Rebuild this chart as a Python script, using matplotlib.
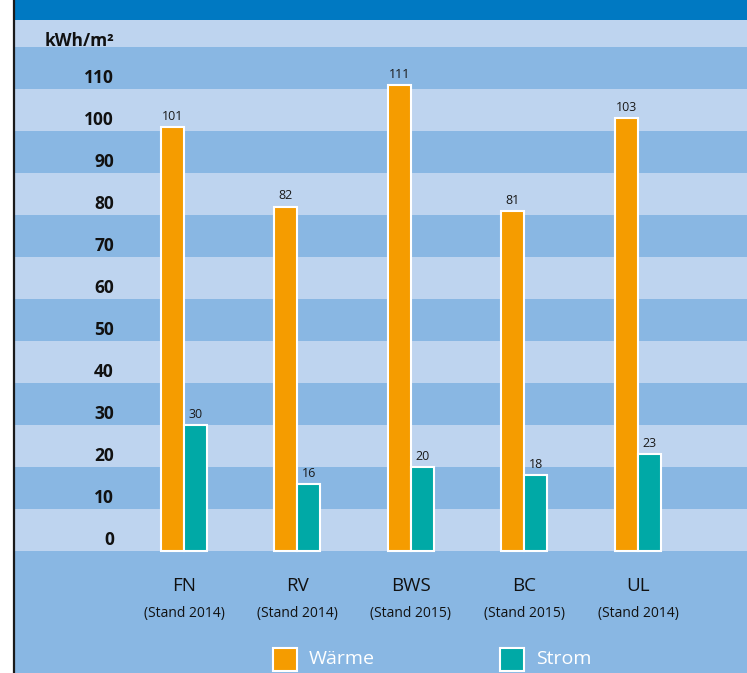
import matplotlib.pyplot as plt
from matplotlib.patches import Rectangle
from matplotlib.lines import Line2D

standorte = ["FN", "RV", "BWS", "BC", "UL"]
stand = ["(Stand 2014)", "(Stand 2014)", "(Stand 2015)", "(Stand 2015)", "(Stand 2014)"]
waerme = [101, 82, 111, 81, 103]
strom = [30, 16, 20, 18, 23]
yticks = [0, 10, 20, 30, 40, 50, 60, 70, 80, 90, 100, 110]

ORANGE = "#f59c00"
TEAL = "#00a9a6"
LIGHT = "#bed4ef"
DARK = "#89b7e3"
TOPBLUE = "#0079c2"

plt.rcParams['font.family'] = ['Open Sans', 'DejaVu Sans']

W, H = 747, 673
fig = plt.figure(figsize=(W / 100, H / 100), dpi=100)
fig.patch.set_facecolor("white")

# axes from x=15px to right edge, y=20px to bottom
ax = fig.add_axes([15 / W, 0, 1 - 15 / W, (H - 20) / H])
ax.set_facecolor(DARK)
ppu = 4.2          # pixels per unit
y0 = 551           # pixel row of value 0
ax.set_ylim(-(H - y0) / ppu, (y0 - 20) / ppu)
step = 113.5       # pixel distance between groups
c0 = 184
ax.set_xlim((15 - c0) / step, (W - c0) / step)
for s in ax.spines.values():
    s.set_visible(False)
ax.set_xticks([])
ax.set_yticks([])

# stripes
top = (y0 - 20) / ppu
for lo in range(0, 130, 20):
    ax.axhspan(lo, min(lo + 10, top), color=LIGHT, lw=0, zorder=0)

# top band
fig.add_artist(Rectangle((15 / W, 1 - 20 / H), 1, 20 / H, transform=fig.transFigure,
                         color=TOPBLUE, lw=0))
# black left line
fig.add_artist(Line2D([14 / W, 14 / W], [0, 1], transform=fig.transFigure,
                      color="#1a1a1a", lw=1.6))

bw = 23 / step
x = list(range(len(standorte)))
b1 = ax.bar([i - bw / 2 for i in x], waerme, bw, color=ORANGE, edgecolor="white",
            linewidth=1.5, zorder=3)
b2 = ax.bar([i + bw / 2 for i in x], strom, bw, color=TEAL, edgecolor="white",
            linewidth=1.5, zorder=3)
for bars, vals in ((b1, waerme), (b2, strom)):
    for r, v in zip(bars, vals):
        ax.annotate(str(v), (r.get_x() + r.get_width() / 2, v), xytext=(0, 3),
                    textcoords="offset points", ha="center", va="bottom",
                    fontsize=9, color="#1a1a1a", zorder=4)

# y labels
xl = (114 - c0) / step
for t in yticks:
    ax.text(xl, t + 2.6, str(t), ha="right", va="center", fontsize=12.5,
            fontweight="bold", color="#111111")
ax.text(xl, (y0 - 41) / ppu, "kWh/m²", ha="right", va="center", fontsize=12.5,
        fontweight="bold", color="#111111")

# category labels
for i, (s, st) in enumerate(zip(standorte, stand)):
    ax.text(i, -(586 - y0) / ppu, s, ha="center", va="center", fontsize=13.5,
            color="#111111")
    ax.text(i, -(614 - y0) / ppu, st, ha="center", va="center", fontsize=10,
            color="#111111")

# legend
for px, col, lab in ((273, ORANGE, "Wärme"), (500, TEAL, "Strom")):
    xs = (px - c0) / step
    ax.add_patch(Rectangle((xs, -(671 - y0) / ppu), 24 / step, 23 / ppu,
                           facecolor=col, edgecolor="white", lw=1.5, zorder=3,
                           clip_on=False))
    ax.text((px + 36 - c0) / step, -(659 - y0) / ppu, lab, ha="left", va="center",
            fontsize=14, color="white")

fig.savefig("out.png", dpi=100, facecolor=fig.get_facecolor())
